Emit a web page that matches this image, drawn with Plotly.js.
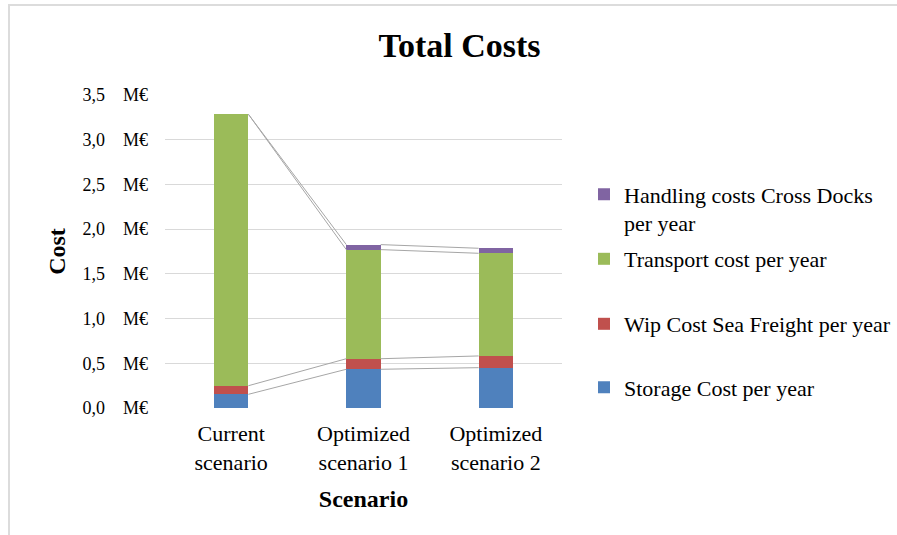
<!DOCTYPE html>
<html>
<head>
<meta charset="utf-8">
<script src="https://cdn.plot.ly/plotly-3.0.1.min.js"></script>
<style>
  html, body { margin: 0; padding: 0; background: #fff; }
  #wrap { position: relative; width: 897px; height: 535px; overflow: hidden; }
  #chart { position: absolute; left: 0; top: 0; width: 897px; height: 535px; }
  #chart text { font-family: "Liberation Serif" !important; }
  #frameTop { position: absolute; left: 8px; top: 4px; width: 889px; height: 2px; background: #dcdcdc; }
  #frameLeft { position: absolute; left: 8px; top: 4px; width: 2px; height: 531px; background: #dcdcdc; }
</style>
</head>
<body>
<div id="wrap">
  <div id="chart"></div>
  <div id="frameTop"></div>
  <div id="frameLeft"></div>
</div>
<script>
// ---- data ----
const categories = ["Current<br>scenario", "Optimized<br>scenario 1", "Optimized<br>scenario 2"];
const storageCost = [0.153, 0.433, 0.451];
const wipCost = [0.096, 0.118, 0.131];
const transportCost = [3.036, 1.220, 1.148];
const handlingCost = [0.000, 0.056, 0.056];
const seriesNames = ["Storage Cost per year", "Wip Cost Sea Freight per year", "Transport cost per year", "Handling costs Cross Docks<br>per year"];
const yTickValues = [0, 0.5, 1, 1.5, 2, 2.5, 3, 3.5];
const yTickLabels = ["0,0", "0,5", "1,0", "1,5", "2,0", "2,5", "3,0", "3,5"];

// ---- styling ----
const colors = ["#4F81BD", "#C0504D", "#9BBB59", "#8064A2"];
const FONT = "Liberation Serif";
const barWidth = 0.26;
const xIdx = categories.map((_, i) => i);
const series = [storageCost, wipCost, transportCost, handlingCost];
const legendIds = ["legend", "legend2", "legend3", "legend4"];

const traces = series.map((vals, k) => ({
  type: "bar",
  x: xIdx,
  y: vals,
  width: barWidth,
  name: seriesNames[k],
  legend: legendIds[k],
  marker: { color: colors[k], line: { width: 0 } },
  hoverinfo: "skip"
}));

// series lines (Excel style) connecting tops of each stacked segment
const cum = [];
let run = xIdx.map(() => 0);
series.forEach(vals => {
  run = run.map((r, i) => r + vals[i]);
  cum.push(run.slice());
});
const lx = [], ly = [];
cum.forEach(c => {
  for (let i = 0; i < xIdx.length - 1; i++) {
    lx.push(xIdx[i] + barWidth / 2, xIdx[i + 1] - barWidth / 2, null);
    ly.push(c[i], c[i + 1], null);
  }
});
traces.push({
  type: "scatter", mode: "lines", x: lx, y: ly, showlegend: false,
  line: { color: "#a6a6a6", width: 1 }, hoverinfo: "skip", cliponaxis: false
});

// plot area geometry (pixels)
const PL = 165, PR = 562, PT = 95, PB = 408;
const py = p => (PB - p) / (PB - PT);
const legX = (584 - PL) / (PR - PL);
function leg(yPix, extra) {
  return Object.assign({
    x: legX, xanchor: "left", y: py(yPix), yanchor: "middle",
    bgcolor: "rgba(0,0,0,0)", borderwidth: 0,
    font: { family: FONT, size: 22, color: "#000" },
    itemclick: false, itemdoubleclick: false
  }, extra || {});
}

const layout = {
  width: 897, height: 535,
  margin: { l: PL, r: 897 - PR, t: PT, b: 535 - PB, pad: 0, autoexpand: false },
  paper_bgcolor: "#fff", plot_bgcolor: "#fff",
  barmode: "stack",
  font: { family: FONT, color: "#000" },
  title: {
    text: "<b>Total Costs</b>",
    font: { family: FONT, size: 34, color: "#000" },
    xref: "container", x: 459.5 / 897, xanchor: "center",
    yref: "container", y: 1 - 45 / 535, yanchor: "middle"
  },
  xaxis: {
    range: [-0.5, 2.5], tickvals: xIdx, ticktext: categories,
    showgrid: false, zeroline: false, showline: false, ticks: "",
    ticklabelstandoff: 10,
    tickfont: { family: FONT, size: 22, color: "#000" },
    title: { text: "<b>Scenario</b>", font: { family: FONT, size: 24, color: "#000" }, standoff: 16 },
    fixedrange: true
  },
  yaxis: {
    range: [0, 3.5], tickvals: yTickValues,
    ticktext: yTickLabels.map(t => t + "\u00a0\u00a0\u00a0\u00a0M€"),
    showgrid: true, gridcolor: "#d9d9d9", gridwidth: 1,
    zeroline: false, showline: false, ticks: "",
    ticklabelstandoff: 16,
    tickfont: { family: FONT, size: 18, color: "#000" },
    title: { text: "<b>Cost</b>", font: { family: FONT, size: 24, color: "#000" }, standoff: 10 },
    fixedrange: true
  },
  legend: leg(387.5),
  legend2: leg(324),
  legend3: leg(259),
  legend4: leg(209, { valign: "top" }),
  showlegend: true
};

Plotly.newPlot("chart", traces, layout, { displayModeBar: false, staticPlot: true });
</script>
</body>
</html>
